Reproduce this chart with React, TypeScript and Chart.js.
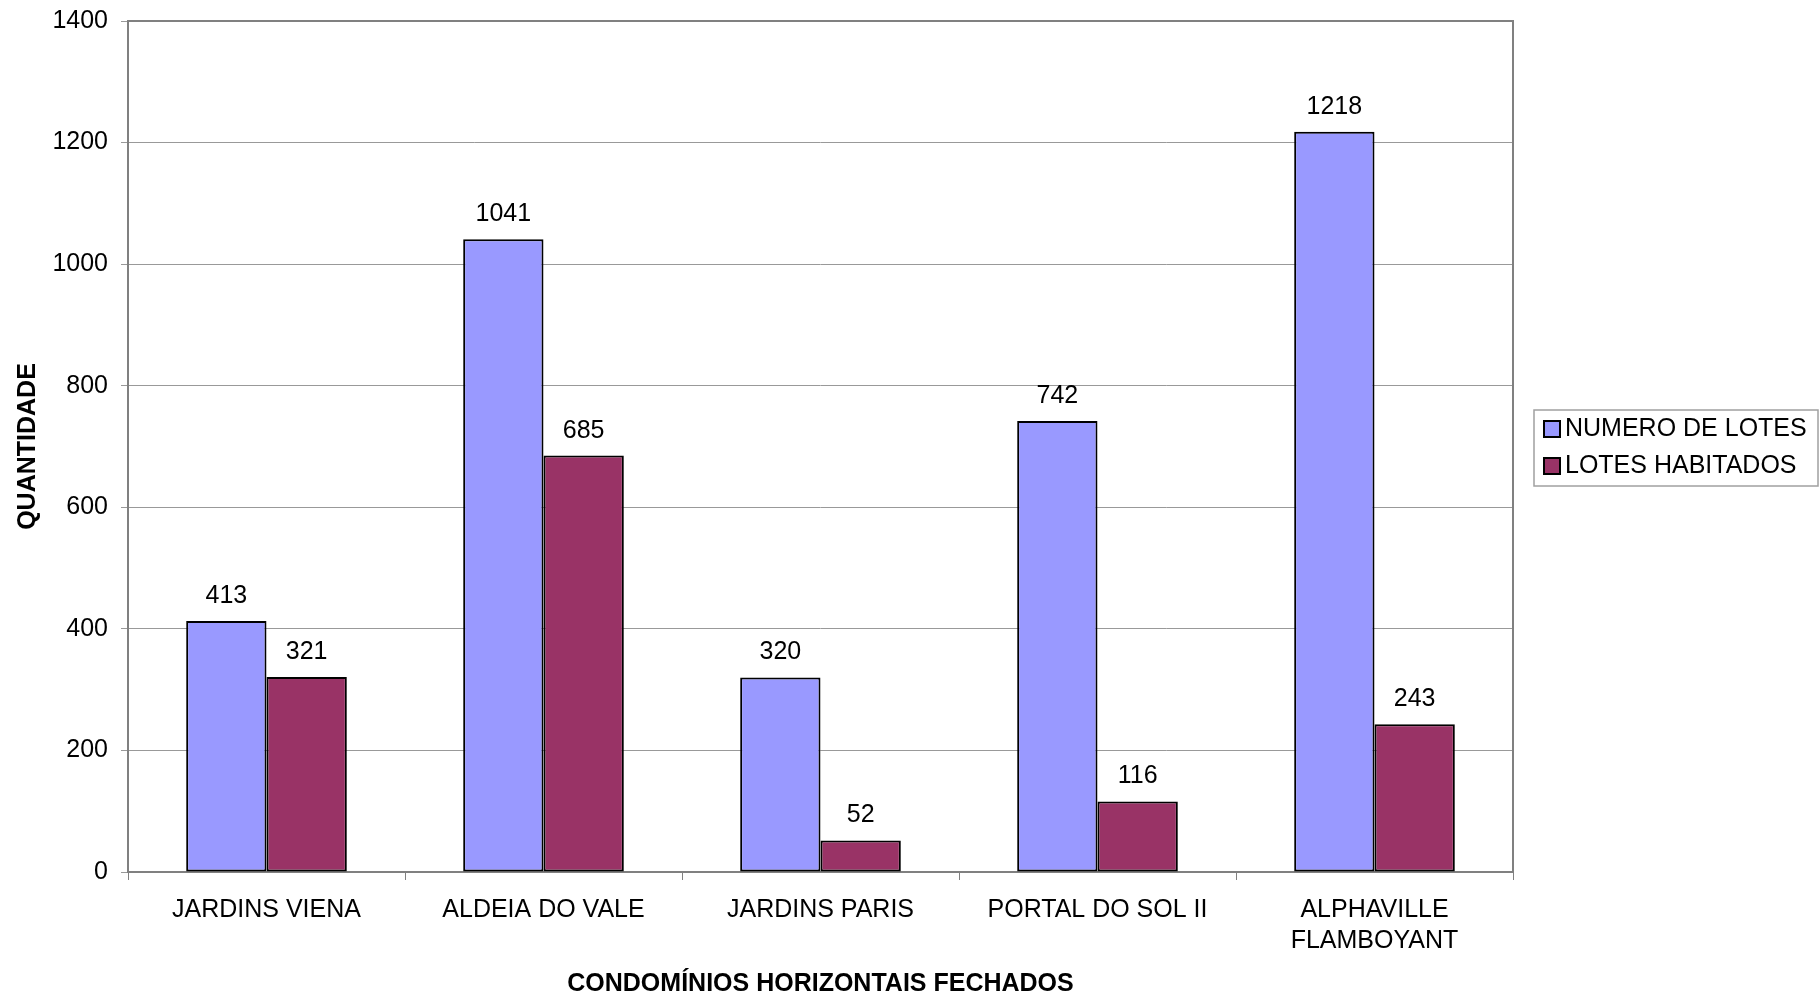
import React, { useEffect, useRef } from "react";
import { Chart, registerables } from "chart.js";

Chart.register(...registerables);

const categories: (string | string[])[] = [
  "JARDINS VIENA",
  "ALDEIA DO VALE",
  "JARDINS PARIS",
  "PORTAL DO SOL II",
  ["ALPHAVILLE", "FLAMBOYANT"],
];
const numeroDeLotes = [413, 1041, 320, 742, 1218];
const lotesHabitados = [321, 685, 52, 116, 243];
const seriesLabels = ["NUMERO DE LOTES", "LOTES HABITADOS"];
const seriesColors = ["#9999FF", "#993366"];
const yTitle = "QUANTIDADE";
const xTitle = "CONDOMÍNIOS HORIZONTAIS FECHADOS";

const FONT = "'Liberation Sans', Arial, sans-serif";
const FS = 25;

const framePlugin = {
  id: "frame",
  beforeDatasetsDraw(chart: any) {
    const { ctx, chartArea } = chart;
    ctx.save();
    ctx.strokeStyle = "#808080";
    ctx.lineWidth = 2;
    ctx.strokeRect(chartArea.left, chartArea.top, chartArea.right - chartArea.left, chartArea.bottom - chartArea.top);
    ctx.restore();
  },
};

const valueLabelPlugin = {
  id: "valueLabels",
  afterDatasetsDraw(chart: any) {
    const { ctx } = chart;
    ctx.save();
    ctx.font = `${FS}px ${FONT}`;
    ctx.fillStyle = "#000";
    ctx.textAlign = "center";
    ctx.textBaseline = "middle";
    chart.data.datasets.forEach((ds: any, di: number) => {
      const meta = chart.getDatasetMeta(di);
      meta.data.forEach((bar: any, i: number) => {
        ctx.fillText(String(ds.data[i]), bar.x, bar.y - 25);
      });
    });
    ctx.restore();
  },
};

const legendPlugin = {
  id: "customLegend",
  afterDraw(chart: any) {
    const { ctx } = chart;
    const boxL = 1534, boxT = 410, boxR = 1818, boxB = 486;
    ctx.save();
    ctx.fillStyle = "#fff";
    ctx.fillRect(boxL, boxT, boxR - boxL, boxB - boxT);
    ctx.strokeStyle = "#a0a0a0";
    ctx.lineWidth = 1.5;
    ctx.strokeRect(boxL, boxT, boxR - boxL, boxB - boxT);
    ctx.font = `${FS}px ${FONT}`;
    ctx.textAlign = "left";
    ctx.textBaseline = "middle";
    chart.data.datasets.forEach((ds: any, i: number) => {
      const cy = 429 + i * 37;
      ctx.fillStyle = ds.backgroundColor;
      ctx.fillRect(1544, cy - 8, 16, 16);
      ctx.strokeStyle = "#000";
      ctx.lineWidth = 2;
      ctx.strokeRect(1544, cy - 8, 16, 16);
      ctx.fillStyle = "#000";
      ctx.fillText(ds.label, 1565, cy);
    });
    ctx.restore();
  },
};

export default function App() {
  const ref = useRef<HTMLCanvasElement | null>(null);
  useEffect(() => {
    if (!ref.current) return;
    const chart = new Chart(ref.current, {
      type: "bar",
      data: {
        labels: categories,
        datasets: [
          {
            label: seriesLabels[0],
            data: numeroDeLotes,
            backgroundColor: seriesColors[0],
            borderColor: "#000",
            borderWidth: 2,
            borderSkipped: false,
            barPercentage: 1,
            categoryPercentage: 0.58,
          },
          {
            label: seriesLabels[1],
            data: lotesHabitados,
            backgroundColor: seriesColors[1],
            borderColor: "#000",
            borderWidth: 2,
            borderSkipped: false,
            barPercentage: 1,
            categoryPercentage: 0.58,
          },
        ],
      },
      options: {
        animation: false,
        responsive: true,
        maintainAspectRatio: false,
        devicePixelRatio: 1,
        layout: { padding: { left: 0, top: 21, right: 306, bottom: 0 } },
        plugins: {
          legend: { display: false },
          tooltip: { enabled: false },
        },
        scales: {
          x: {
            grid: {
              display: true,
              drawOnChartArea: false,
              drawTicks: true,
              tickLength: 8,
              color: "#808080",
              lineWidth: 1,
            },
            border: { display: false },
            ticks: {
              color: "#000",
              font: { family: FONT, size: FS, lineHeight: 1.25 },
              padding: 14,
              maxRotation: 0,
              autoSkip: false,
            },
            title: {
              display: true,
              text: xTitle,
              color: "#000",
              font: { family: FONT, size: FS, weight: "bold", lineHeight: 1 },
              padding: { top: 0, bottom: 0 },
            },
            afterFit: (scale: any) => {
              scale.height = 125;
            },
          },
          y: {
            min: 0,
            max: 1400,
            ticks: {
              stepSize: 200,
              color: "#000",
              font: { family: FONT, size: FS },
              padding: 13,
              callback: (v: any) => String(v),
            },
            grid: {
              color: "#999999",
              lineWidth: 1,
              drawTicks: true,
              tickLength: 7,
            },
            border: { display: false },
            title: {
              display: true,
              text: yTitle,
              color: "#000",
              font: { family: FONT, size: FS, weight: "bold", lineHeight: 1.2 },
              padding: { top: 13, bottom: 0 },
            },
            afterFit: (scale: any) => {
              scale.width = 128;
              scale.paddingTop = 0;
              scale.paddingBottom = 0;
            },
          },
        },
      },
      plugins: [framePlugin, valueLabelPlugin, legendPlugin],
    } as any);
    return () => chart.destroy();
  }, []);
  return (
    <div style={{ position: "absolute", left: 0, top: 0, width: 1819, height: 997, background: "#fff" }}>
      <canvas ref={ref} />
    </div>
  );
}
